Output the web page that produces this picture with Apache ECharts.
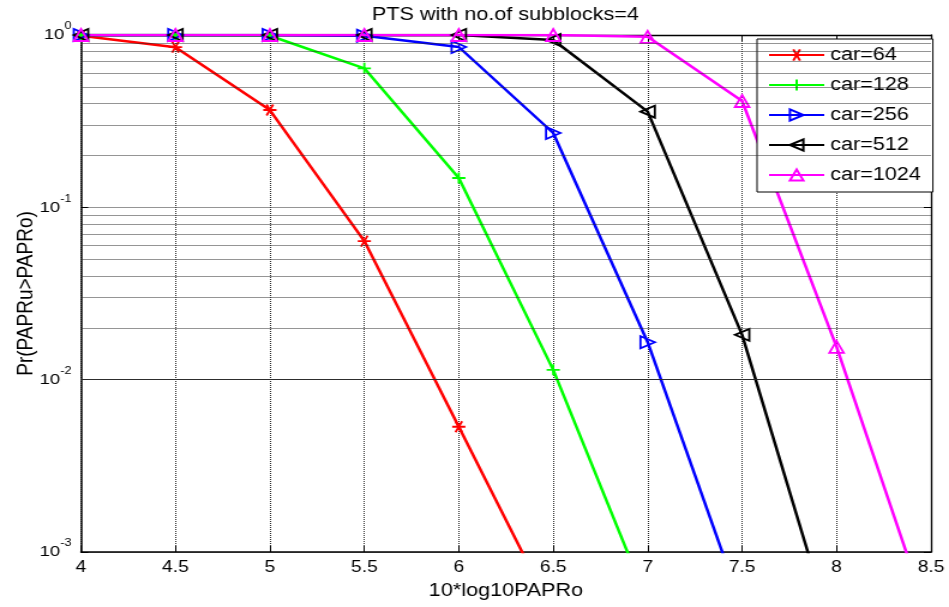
<!DOCTYPE html>
<html>
<head>
<meta charset="utf-8">
<script src="https://cdn.jsdelivr.net/npm/echarts@6/dist/echarts.min.js"></script>
<style>
  html, body { margin: 0; padding: 0; background: #fff; overflow: hidden; }
  /* the reference figure is stretched sideways, so the chart is drawn narrower and scaled */
  #chart { width: 791px; height: 607px; transform: scaleX(1.19975); transform-origin: 0 0; }
</style>
</head>
<body>
<div id="chart"></div>
<script>
// PTS CCDF curves
const xValues = [4, 4.5, 5, 5.5, 6, 6.5, 7, 7.5, 8, 8.5];

const car64   = [0.99, 0.85, 0.367, 0.0637, 0.00533, 0.00044];
const car128  = [1.0, 1.0, 0.99, 0.641, 0.148, 0.0114, 0.000515];
const car256  = [1.0, 1.0, 1.0, 0.99, 0.852, 0.27, 0.0165, 0.000474];
const car512  = [1.0, 1.0, 1.0, 1.0, 1.0, 0.935, 0.359, 0.0182, 0.000281];
const car1024 = [1.0, 1.0, 1.0, 1.0, 1.0, 1.0, 0.976, 0.414, 0.0155, 0.000377];

const seriesNames = ['car=64', 'car=128', 'car=256', 'car=512', 'car=1024'];
const seriesColors = ['#ff0000', '#00ff00', '#0000ff', '#000000', '#ff00ff'];

// minor log grid lines (2..9 x each decade)
const minorGrid = [0.002, 0.003, 0.004, 0.005, 0.006, 0.007, 0.008, 0.009,
                   0.02, 0.03, 0.04, 0.05, 0.06, 0.07, 0.08, 0.09,
                   0.2, 0.3, 0.4, 0.5, 0.6, 0.7, 0.8, 0.9];

const FONT = "'Liberation Sans', Arial, sans-serif";
const gridLine = { color: '#2a2a2a', width: 1, type: [1, 1] };

const starPath = 'path://M0,5L10,5M2.5,0.67L7.5,9.33M2.5,9.33L7.5,0.67';
const plusPath = 'path://M5,0L5,10M0,5L10,5';

const markers = [
    { symbol: starPath, size: 11, rotate: 0 },
    { symbol: plusPath, size: 11, rotate: 0 },
    { symbol: 'triangle', size: 12, rotate: -90 },
    { symbol: 'triangle', size: 12, rotate: 90 },
    { symbol: 'triangle', size: 12, rotate: 0 }
];

function pairs(vals) {
    return vals.map((v, i) => [xValues[i], v]);
}

const allData = [car64, car128, car256, car512, car1024];

const series = allData.map((vals, i) => ({
    name: seriesNames[i],
    type: 'line',
    data: pairs(vals),
    symbol: markers[i].symbol,
    symbolSize: markers[i].size,
    symbolRotate: markers[i].rotate,
    showAllSymbol: true,
    lineStyle: { color: seriesColors[i], width: 2.5 },
    itemStyle: { color: 'rgba(0,0,0,0)', borderColor: seriesColors[i], borderWidth: 1.8 },
    z: 3
}));

// helper series only carrying the minor grid
series.unshift({
    name: 'minor',
    type: 'line',
    data: [],
    silent: true,
    markLine: {
        silent: true,
        symbol: ['none', 'none'],
        label: { show: false },
        lineStyle: gridLine,
        animation: false,
        data: minorGrid.map(v => ({ yAxis: v }))
    },
    z: 1
});

const chart = echarts.init(document.getElementById('chart'));

chart.setOption({
    animation: false,
    backgroundColor: '#fff',
    title: {
        text: 'PTS with no.of subblocks=4',
        left: 310,
        top: 6,
        padding: 0,
        textStyle: { fontFamily: FONT, fontSize: 18, fontWeight: 'normal', color: '#000' }
    },
    grid: { left: 67.5, right: 15, top: 35, bottom: 55, containLabel: false, outerBoundsMode: 'none' },
    legend: {
        data: seriesNames,
        orient: 'vertical',
        left: 631,
        top: 39,
        padding: [7, 10, 8, 9],
        itemGap: 12,
        itemWidth: 46,
        itemHeight: 14,
        backgroundColor: '#fff',
        borderColor: '#000',
        borderWidth: 1,
        borderRadius: 0,
        textStyle: { fontFamily: FONT, fontSize: 18, color: '#000' }
    },
    xAxis: [{
        type: 'value',
        min: 4,
        max: 8.5,
        interval: 0.5,
        name: '10*log10PAPRo',
        nameLocation: 'middle',
        nameGap: 30,
        nameMoveOverlap: false,
        nameTextStyle: { fontFamily: FONT, fontSize: 18, color: '#000' },
        axisLine: { show: true, lineStyle: { color: '#000', width: 1.5 } },
        axisTick: { show: true, inside: true, length: 6, lineStyle: { color: '#000' } },
        axisLabel: { fontFamily: FONT, fontSize: 16, color: '#000', margin: 8 },
        splitLine: { show: true, lineStyle: gridLine }
    }, {
        type: 'value',
        position: 'top',
        min: 4,
        max: 8.5,
        interval: 0.5,
        axisLine: { show: true, lineStyle: { color: '#000', width: 1.3 } },
        axisTick: { show: true, inside: true, length: 6, lineStyle: { color: '#000' } },
        axisLabel: { show: false },
        splitLine: { show: false }
    }],
    yAxis: [{
        type: 'log',
        logBase: 10,
        min: 0.001,
        max: 1,
        name: 'Pr(PAPRu>PAPRo)',
        nameLocation: 'middle',
        nameGap: 36,
        nameMoveOverlap: false,
        nameTextStyle: { fontFamily: FONT, fontSize: 19, color: '#000' },
        axisLine: { show: true, lineStyle: { color: '#000', width: 1.5 } },
        axisTick: { show: true, inside: true, length: 6, lineStyle: { color: '#000' } },
        axisLabel: {
            margin: 8,
            fontFamily: FONT,
            fontSize: 15.5,
            color: '#000',
            formatter: v => '{b|10}{s|' + Math.round(Math.log10(v)) + '}',
            rich: {
                b: { fontFamily: FONT, fontSize: 15.5, color: '#000', lineHeight: 16 },
                s: { fontFamily: FONT, fontSize: 10.5, color: '#000', lineHeight: 11, padding: [0, 0, 17, 0] }
            }
        },
        splitLine: { show: true, lineStyle: gridLine },
        minorTick: { show: false },
        minorSplitLine: { show: false }
    }, {
        type: 'log',
        logBase: 10,
        min: 0.001,
        max: 1,
        position: 'right',
        axisLine: { show: true, lineStyle: { color: '#000', width: 1.3 } },
        axisTick: { show: true, inside: true, length: 6, lineStyle: { color: '#000' } },
        axisLabel: { show: false },
        splitLine: { show: false }
    }],
    series: series
});
</script>
</body>
</html>
